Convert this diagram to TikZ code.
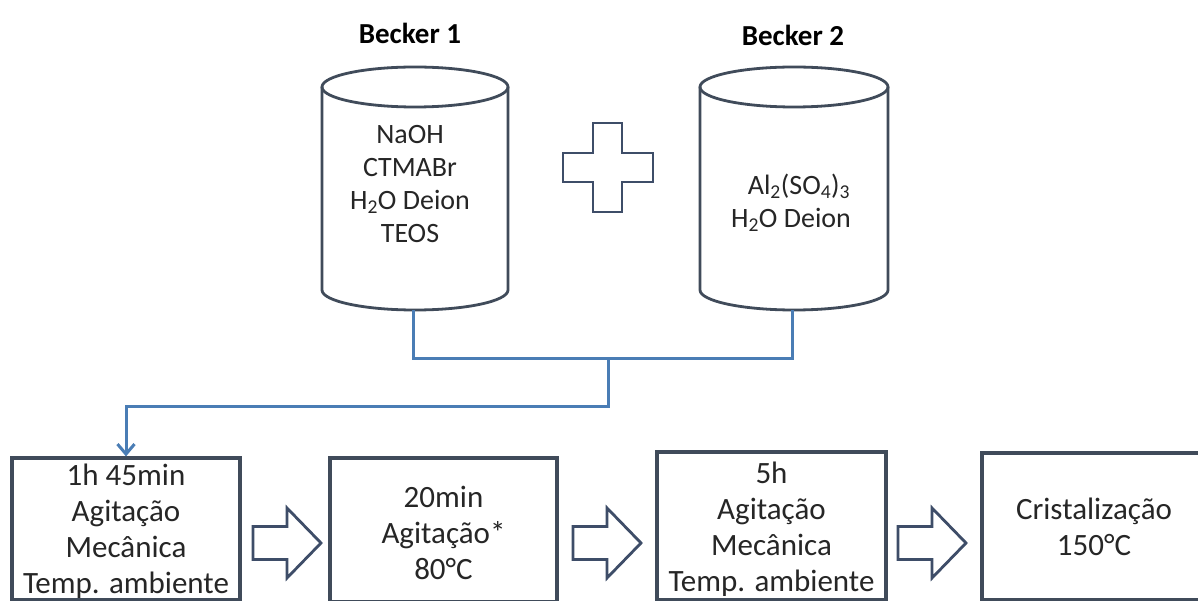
\documentclass[tikz,border=0pt]{standalone}
\usepackage{fontspec}
\setmainfont{Carlito}
\usetikzlibrary{arrows.meta}
\definecolor{edgec}{HTML}{404B5A}
\definecolor{connc}{HTML}{4A7DB5}
\definecolor{shapec}{HTML}{3E4D68}
\begin{document}
\begin{tikzpicture}[x=1pt,y=-1pt,
  cyl/.style={draw=edgec, line width=2.8pt},
  cyltext/.style={align=center, font=\fontsize{28}{33}\selectfont, text=black!85, inner sep=0pt},
  title/.style={font=\fontsize{29}{33}\selectfont\bfseries, inner sep=0pt},
  box/.style={draw=edgec, line width=3.2pt, align=center, inner sep=0pt,
              font=\fontsize{31}{36}\selectfont, text=black!85},
  connline/.style={draw=connc, line width=3pt},
  blockarrow/.style={draw=shapec, line width=2.8pt, line join=miter},
  barrow/.pic={\path[blockarrow] (0,-16.5) -- (34,-16.5) -- (34,-35) -- (68,0) -- (34,35) -- (34,16.5) -- (0,16.5) -- cycle;}
]
\useasboundingbox (0,0) rectangle (1198,601);
\fill[white] (0,0) rectangle (1198,601);

% titles
\node[title] (t1) at (410,33) {Becker 1};
\node[title] (t2) at (793,35) {Becker 2};

% beaker 1
\draw[cyl] (415,87) ellipse [x radius=93pt, y radius=20pt];
\draw[cyl] (322,87) -- (322,290) arc[start angle=180, end angle=360, x radius=93pt, y radius=20pt] -- (508,87);
\node[cyltext] (b1txt) at (410,184) {NaOH\\CTMABr\\H\textsubscript{2}O Deion\\TEOS};
\coordinate (b1bot) at (413,310);

% beaker 2
\draw[cyl] (794,87) ellipse [x radius=94pt, y radius=20pt];
\draw[cyl] (700,87) -- (700,290) arc[start angle=180, end angle=360, x radius=94pt, y radius=20pt] -- (888,87);
\node[cyltext] (b2txt) at (791,203) {\hspace*{16pt}Al\textsubscript{2}(SO\textsubscript{4})\textsubscript{3}\\H\textsubscript{2}O Deion};
\coordinate (b2bot) at (792,310);

% plus sign
\draw[blockarrow] (593,123) -- (622,123) -- (622,153) -- (653,153) -- (653,182) -- (622,182)
  -- (622,212) -- (593,212) -- (593,182) -- (563,182) -- (563,153) -- (593,153) -- cycle;

% process boxes
\node[box, minimum width=228pt, minimum height=142pt] (box1) at (126,529)
  {\rule{0pt}{26pt}1h 45min\\Agitação\\Mecânica\\Temp. ambiente};
\node[box, minimum width=227pt, minimum height=144pt] (box2) at (443.5,530)
  {\rule{0pt}{28pt}20min\\Agitação*\\80°C};
\node[box, minimum width=229pt, minimum height=148pt] (box3) at (771.5,526)
  {\rule{0pt}{28pt}5h\\Agitação\\Mecânica\\Temp. ambiente};
\node[box, minimum width=224pt, minimum height=147pt] (box4) at (1094,526.5)
  {Cristalização\\150°C};

% connectors
\coordinate (join) at (608,358);
\coordinate (bend) at (608,406);
\draw[connline] (b1bot) |- (join) -| (b2bot);
\draw[connline, -{Straight Barb[length=10pt,width=17pt]}] (join) -- (bend) -| (box1.north);

% block arrows
\pic at (253,543) {barrow};
\pic at (573,543) {barrow};
\pic at (898,543) {barrow};
\end{tikzpicture}
\end{document}
